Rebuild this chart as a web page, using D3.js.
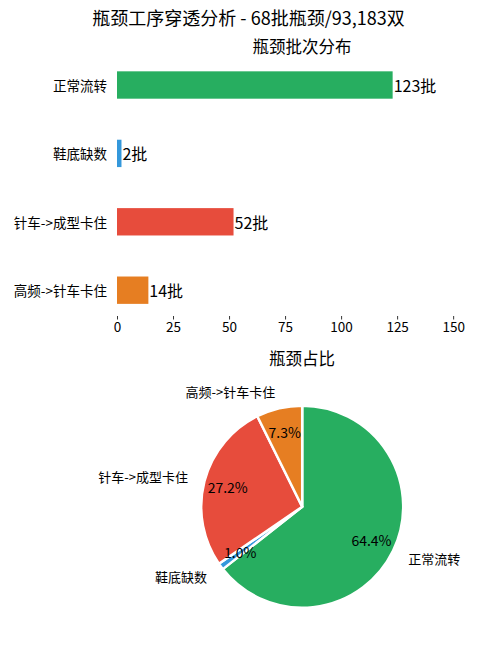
<!DOCTYPE html>
<html>
<head>
<meta charset="utf-8">
<script src="https://cdn.jsdelivr.net/npm/d3@7"></script>
<style>
  html, body { margin: 0; padding: 0; background: #fff; }
  text { font-family: "Noto Sans CJK SC", "Noto Sans", sans-serif; fill: #000; }
</style>
</head>
<body>
<script>
const categories = ["正常流转", "鞋底缺数", "针车->成型卡住", "高频->针车卡住"];
const batchCounts = [123, 2, 52, 14];
const colors = ["#27ae60", "#3498db", "#e74c3c", "#e67e22"];
const xTicks = [0, 25, 50, 75, 100, 125, 150];
const mainTitle = "瓶颈工序穿透分析 - 68批瓶颈/93,183双";
const barTitle = "瓶颈批次分布";
const pieTitle = "瓶颈占比";

const W = 497, H = 645;
const svg = d3.select("body").append("svg").attr("width", W).attr("height", H);

svg.append("text").attr("x", 248.5).attr("y", 17).attr("text-anchor", "middle")
  .attr("dominant-baseline", "central").style("font-size", "18px").text(mainTitle);

// ---- Bar chart ----
const axL = 117, axR = 489, axT = 59.7, axB = 315.5;
const x = d3.scaleLinear().domain([0, 166]).range([axL, axR]);
const y = d3.scaleLinear().domain([-0.37, 3.37]).range([axT, axB]);
const barH = 0.4;

svg.append("text").attr("x", 302).attr("y", 46).attr("text-anchor", "middle")
  .attr("dominant-baseline", "central").style("font-size", "16.5px").text(barTitle);

const bars = svg.append("g");
bars.selectAll("rect").data(batchCounts).join("rect")
  .attr("x", x(0))
  .attr("y", (d, i) => y(i - barH / 2))
  .attr("width", d => x(d) - x(0))
  .attr("height", y(barH) - y(0))
  .attr("fill", (d, i) => colors[i]);

bars.selectAll("text.val").data(batchCounts).join("text").attr("class", "val")
  .attr("x", d => x(d) + 1)
  .attr("y", (d, i) => y(i))
  .attr("dominant-baseline", "central")
  .style("font-size", "16px")
  .text(d => d + "批");

bars.selectAll("text.cat").data(categories).join("text").attr("class", "cat")
  .attr("x", axL - 10)
  .attr("y", (d, i) => y(i))
  .attr("text-anchor", "end")
  .attr("dominant-baseline", "central")
  .style("font-size", "13.5px")
  .text(d => d);

const xAxis = d3.axisBottom(x).tickValues(xTicks).tickSize(3.5).tickPadding(3);
const gx = svg.append("g").attr("transform", `translate(0,${axB + 0.5})`).call(xAxis);
gx.select(".domain").remove();
gx.selectAll("line").attr("stroke", "#000").attr("stroke-width", 0.8);
gx.selectAll("text").style("font-size", "13.5px").style("font-family", "'Noto Sans CJK SC', sans-serif").attr("fill", "#000");

// ---- Pie ----
const cx = 302.2, cy = 506.7, r = 101;
svg.append("text").attr("x", 302).attr("y", 358).attr("text-anchor", "middle")
  .attr("dominant-baseline", "central").style("font-size", "16.5px").text(pieTitle);

const pie = d3.pie().sort(null).startAngle(0).endAngle(2 * Math.PI);
const arcs = pie(batchCounts);
const total = d3.sum(batchCounts);
const arc = d3.arc().innerRadius(0).outerRadius(r);
const pg = svg.append("g").attr("transform", `translate(${cx},${cy})`);
pg.selectAll("path").data(arcs).join("path")
  .attr("d", arc)
  .attr("fill", (d, i) => colors[i])
  .attr("stroke", "#fff")
  .attr("stroke-width", 2.5)
  .attr("stroke-linejoin", "round");

const mid = d => (d.startAngle + d.endAngle) / 2;
pg.selectAll("text.pct").data(arcs).join("text").attr("class", "pct")
  .attr("x", d => Math.sin(mid(d)) * 77)
  .attr("y", d => -Math.cos(mid(d)) * 77)
  .attr("text-anchor", "middle")
  .attr("dominant-baseline", "central")
  .style("font-size", "14px")
  .text(d => (d.value / total * 100).toFixed(1) + "%");

pg.selectAll("text.lab").data(arcs).join("text").attr("class", "lab")
  .attr("x", d => Math.sin(mid(d)) * 118)
  .attr("y", d => -Math.cos(mid(d)) * 118)
  .attr("text-anchor", d => Math.sin(mid(d)) > 0 ? "start" : "end")
  .attr("dominant-baseline", "central")
  .style("font-size", "13px")
  .text((d, i) => categories[i]);
</script>
</body>
</html>
